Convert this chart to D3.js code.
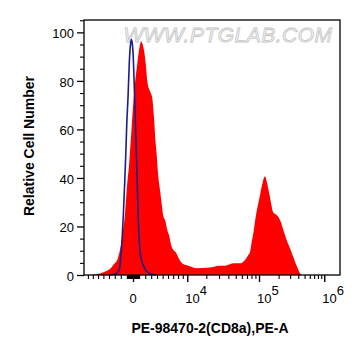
<!DOCTYPE html>
<html>
<head>
<meta charset="utf-8">
<script src="https://cdn.jsdelivr.net/npm/d3@7"></script>
<style>
  html, body { margin: 0; padding: 0; background: #fff; }
  svg { display: block; }
  text { font-family: Arial, "Liberation Sans", sans-serif; }
</style>
</head>
<body>
<svg id="chart" width="361" height="356"></svg>
<script>
// ---- data (x in display channels 0..1024, y in relative cell number) ----
const redChannel = [0, 32, 67, 88, 107, 120, 133, 142, 149, 156, 163, 168, 173, 180, 183, 190, 198, 207, 213, 220, 229, 233, 240, 247, 253, 263, 273, 280, 287, 291, 296, 304, 310, 316, 326, 332, 340, 351, 360, 368, 381, 395, 417, 451, 491, 517, 537, 564, 597, 624, 644, 657, 664, 671, 680, 688, 696, 704, 712, 718, 724, 730, 737, 744, 751, 756, 764, 777, 787, 796, 804, 814, 824, 834, 844, 854, 864, 871, 1024];
const redCount = [0, 0.1, 0.7, 1.5, 2.8, 4.5, 6.2, 9.5, 13, 18.5, 24, 31, 37.7, 45, 49.4, 60, 72, 82, 87, 92.6, 96.3, 95.5, 92.6, 87, 80, 76, 73, 65, 54, 49.4, 42, 35, 30, 25, 22, 19, 16.5, 11.5, 10, 9.3, 6.5, 4.6, 3.8, 2.8, 3.0, 3.3, 3.8, 3.8, 4.8, 4.8, 6.2, 8.2, 9.5, 13.7, 19, 24.7, 29, 32.9, 37, 39.5, 40.7, 39, 35.7, 32, 28.1, 26, 25.2, 24, 21.9, 19, 16.5, 13.5, 11, 8.2, 5.5, 3, 0.7, 0, 0];

const blueChannel = [104, 116, 128, 140, 145, 149, 153, 157, 162, 167, 171, 176, 181, 185, 189, 193, 197, 201, 205, 209, 213, 216, 220, 224, 232, 240, 252, 267, 288];
const blueCount = [0, 0.2, 0.6, 2, 5, 10, 16, 24, 36, 49.4, 62, 73, 87, 94, 97, 95.5, 90, 78, 64, 52, 38, 26, 16, 10, 5.5, 3.4, 1.3, 0.4, 0];

// axis: raw PE-A values of the major ticks and their display channels
const majorValues = [0, 1e4, 1e5, 1e6];
const majorChannels = [196, 413, 700, 961];
const majorLabels = ["0", "10|4", "10|5", "10|6"];
const minorValues = [-8000, -7000, -6000, -5000, -4000, -3000, -2000, -1000,
  -900, -800, -700, -600, -500, -400, -300, -200, -100,
  100, 200, 300, 400, 500, 600, 700, 800, 900,
  1000, 2000, 3000, 4000, 5000, 6000, 7000, 8000, 9000,
  2e4, 3e4, 4e4, 5e4, 6e4, 7e4, 8e4, 9e4,
  2e5, 3e5, 4e5, 5e5, 6e5, 7e5, 8e5, 9e5];
const yMajorTicks = [0, 20, 40, 60, 80, 100];
const yMinorTicks = [5, 10, 15, 25, 30, 35, 45, 50, 55, 65, 70, 75, 85, 90, 95, 105];

const xTitle = "PE-98470-2(CD8a),PE-A";
const yTitle = "Relative Cell Number";
const watermark = "WWW.PTGLAB.COM";

// ---- layout ----
const L = 84, R = 340, T = 20, B = 275;
const svg = d3.select("#chart");

const x = d3.scaleLinear().domain([0, 1024]).range([L, R]);
const y = d3.scaleLinear().domain([0, 105.1]).range([B, T]);

// biexponential-like transform for the axis
const W = 10000;
const tf = v => Math.asinh(v / W) / Math.LN10;
const xAxisScale = d3.scaleLinear()
  .domain(majorValues.map(tf))
  .range(majorChannels.map(c => x(c)));

// watermark
svg.append("text")
  .attr("x", 228).attr("y", 42)
  .attr("text-anchor", "middle")
  .attr("font-size", 21)
  .attr("font-style", "italic")
  .attr("letter-spacing", 0.5)
  .attr("fill", "#f6f6f6")
  .attr("stroke", "#c4c4c4")
  .attr("stroke-width", 0.8)
  .text(watermark);

// red filled histogram
const redData = redChannel.map((c, i) => [c, redCount[i]]);
svg.append("path")
  .datum(redData)
  .attr("fill", "#ff0000")
  .attr("d", d3.area().x(d => x(d[0])).y0(y(0)).y1(d => y(d[1])).curve(d3.curveMonotoneX));

// blue control line
const blueData = blueChannel.map((c, i) => [c, blueCount[i]]);
svg.append("path")
  .datum(blueData)
  .attr("fill", "none")
  .attr("stroke", "#1c1c8a")
  .attr("stroke-width", 1.6)
  .attr("d", d3.line().x(d => x(d[0])).y(d => y(d[1])).curve(d3.curveMonotoneX));

// frame
svg.append("rect")
  .attr("x", L).attr("y", T).attr("width", R - L).attr("height", B - T)
  .attr("fill", "none").attr("stroke", "#000").attr("stroke-width", 1.3);

// y axis
const yAxisMajor = d3.axisLeft(y).tickValues(yMajorTicks).tickSize(7).tickPadding(3).tickFormat(d3.format("d"));
const gy = svg.append("g").attr("transform", `translate(${L},0)`).call(yAxisMajor);
gy.select(".domain").remove();
gy.selectAll("text").attr("font-size", 13).attr("font-family", "Arial, 'Liberation Sans', sans-serif").attr("fill", "#000").attr("dy", "0.4em");
gy.selectAll("line").attr("stroke-width", 1.3);
const gyMinor = svg.append("g").attr("transform", `translate(${L},0)`)
  .call(d3.axisLeft(y).tickValues(yMinorTicks.filter(v => v <= 105)).tickSize(4).tickFormat(""));
gyMinor.select(".domain").remove();
gyMinor.selectAll("line").attr("stroke-width", 1.1);

// x axis
const gxMinor = svg.append("g").attr("transform", `translate(0,${B})`)
  .call(d3.axisBottom(xAxisScale).tickValues(minorValues.map(tf)).tickSize(4).tickFormat(""));
gxMinor.select(".domain").remove();
gxMinor.selectAll("line").attr("stroke-width", 1.1);
const gx = svg.append("g").attr("transform", `translate(0,${B})`)
  .call(d3.axisBottom(xAxisScale).tickValues(majorValues.map(tf)).tickSize(7).tickFormat(""));
gx.select(".domain").remove();
gx.selectAll("line").attr("stroke-width", 1.4);

// x tick labels with superscripts
majorValues.forEach((v, i) => {
  const px = xAxisScale(tf(v));
  const parts = majorLabels[i].split("|");
  if (parts.length === 1) {
    svg.append("text").attr("x", px).attr("y", 303)
      .attr("text-anchor", "middle").attr("font-size", 13).text(parts[0]);
  } else {
    const t = svg.append("text").attr("x", px - 2).attr("y", 303).attr("font-size", 13);
    t.append("tspan").text(parts[0]);
    t.append("tspan").attr("dy", -8).attr("font-size", 13).text(parts[1]);
  }
});

// titles
svg.append("text")
  .attr("x", 210).attr("y", 333)
  .attr("text-anchor", "middle")
  .attr("font-size", 14).attr("font-weight", "bold")
  .text(xTitle);
svg.append("text")
  .attr("transform", "translate(33.5,146) rotate(-90)")
  .attr("text-anchor", "middle")
  .attr("font-size", 14).attr("font-weight", "bold")
  .text(yTitle);
</script>
</body>
</html>
